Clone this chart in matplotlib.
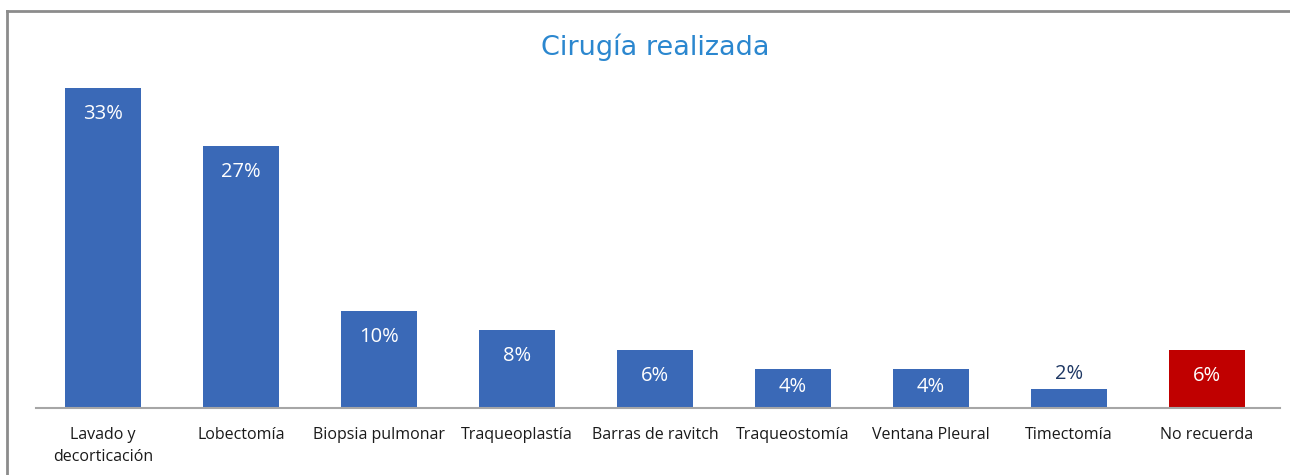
import matplotlib
matplotlib.use("Agg")
import matplotlib.pyplot as plt
from matplotlib.lines import Line2D

categories = ["Lavado y\ndecorticación", "Lobectomía", "Biopsia pulmonar", "Traqueoplastía",
              "Barras de ravitch", "Traqueostomía", "Ventana Pleural", "Timectomía", "No recuerda"]
values = [33, 27, 10, 8, 6, 4, 4, 2, 6]
labels = ["33%", "27%", "10%", "8%", "6%", "4%", "4%", "2%", "6%"]
title = "Cirugía realizada"

blue = "#3A69B7"
red = "#C00000"
colors = [blue] * 8 + [red]

fig = plt.figure(figsize=(12.9, 4.75), dpi=100)
ax = fig.add_axes([36/1290, 1-408/475, (1280-36)/1290, (408-88)/475])
x = list(range(len(values)))
bars = ax.bar(x, values, width=0.55, color=colors, zorder=2)
ax.set_xlim(-0.486, 8.529)
ax.set_ylim(0, 33)

for spine in ["top", "right", "left"]:
    ax.spines[spine].set_visible(False)
ax.spines["bottom"].set_color("#A6A6A6")
ax.spines["bottom"].set_linewidth(1.5)
ax.set_yticks([])
ax.set_xticks(x)
ax.set_xticklabels(categories, fontsize=11.5, family="Open Sans", color="#1a1a1a", linespacing=1.5)
ax.tick_params(axis="x", length=0, pad=14)

for xi, v, lab in zip(x, values, labels):
    if v >= 4:
        yc = max(v - 2.68, v * 0.55)
        ax.text(xi, yc, lab, ha="center", va="center", color="white", fontsize=14.5, family="Open Sans")
    else:
        ax.text(xi, v + 0.45, lab, ha="center", va="bottom", color="#1F3864", fontsize=14.5, family="Open Sans")

fig.text(655/1290, 1-47/475, title, ha="center", va="center", fontsize=19.5, family="DejaVu Sans",
         color="#2B87CF")

# outer frame
fig.add_artist(Line2D([7/1290, 1.0], [1-11/475, 1-11/475], transform=fig.transFigure, color="#8C8C8C", lw=2))
fig.add_artist(Line2D([7/1290, 7/1290], [0, 1-11/475], transform=fig.transFigure, color="#8C8C8C", lw=2))

fig.savefig("out.png", dpi=100, facecolor="white")
